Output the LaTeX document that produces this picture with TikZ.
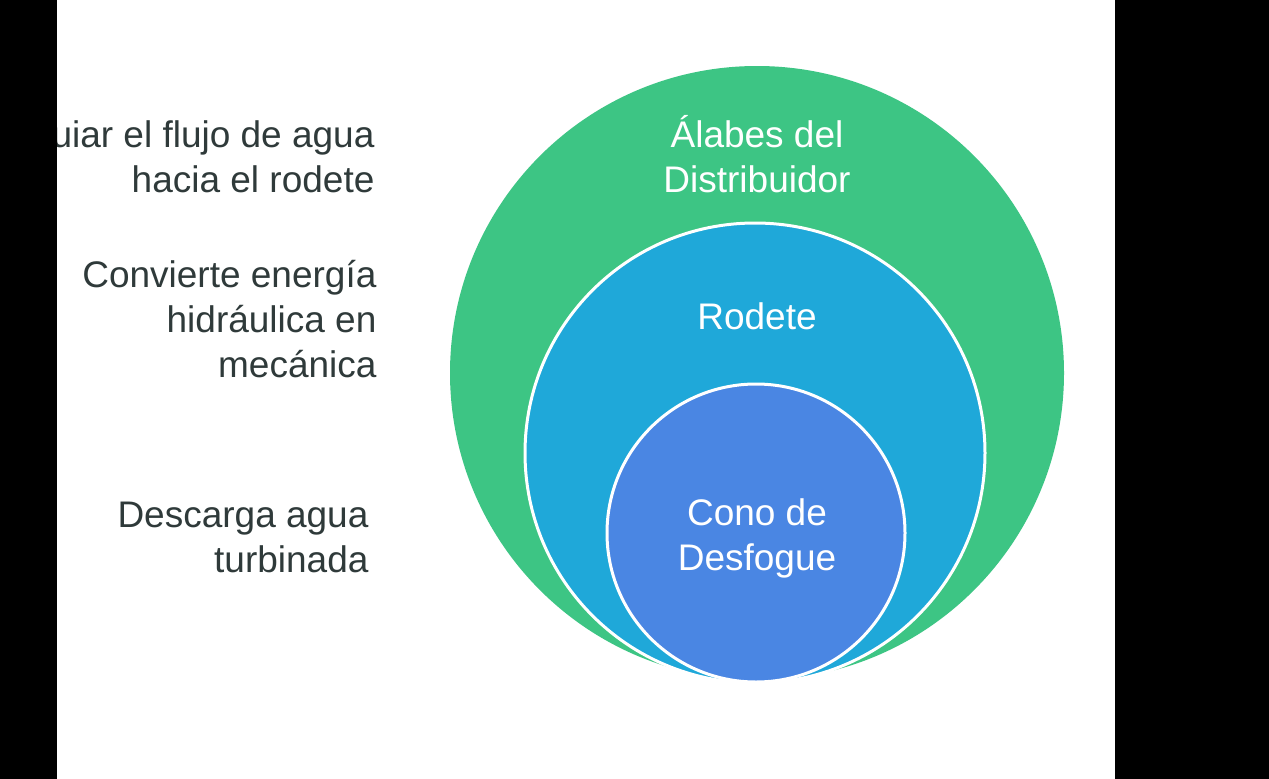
\documentclass[tikz,border=0pt]{standalone}
\usepackage{fontspec}
\setmainfont{Liberation Sans}
\usetikzlibrary{positioning}
\definecolor{green}{HTML}{3DC584}
\definecolor{blue}{HTML}{1FA8D9}
\definecolor{indigo}{HTML}{4A86E3}
\definecolor{ink}{HTML}{2F3A3A}
\tikzset{
  ring/.style={circle,inner sep=0pt,draw=white,line width=3pt},
  inlabel/.style={text=white,align=center,font=\fontsize{37}{45}\selectfont},
  sidelabel/.style={text=ink,align=right,anchor=base east,font=\fontsize{37}{45}\selectfont}
}
\begin{document}
\begin{tikzpicture}[x=1pt,y=-1pt]
        \useasboundingbox (0,0) rectangle (1269,779);
        \fill[white] (0,0) rectangle (1269,779);
        \node[circle,inner sep=0pt,fill=green,minimum size=614pt] (distribuidor) at (757,373) {};
        \node[ring,fill=blue,minimum size=460pt] (rodete) at (755,453) {};
        \node[ring,fill=indigo,minimum size=298pt] (cono) at (756,533) {};
        \node[inlabel,anchor=base] (tdistribuidor) at (757,192) {Álabes del\\Distribuidor};
        \node[inlabel,anchor=base] (trodete) at (757,329) {Rodete};
        \node[inlabel,anchor=base] (tcono) at (757,570) {Cono de\\Desfogue};
        \node[sidelabel] (fguiar) at (378,192) {uiar el flujo de agua\\hacia el rodete};
        \node[sidelabel] (fconvierte) at (380,377) {Convierte energía\\hidráulica en\\mecánica};
        \node[sidelabel] (fdescarga) at (372,572) {Descarga agua\\turbinada};
        \fill[black] (0,0) rectangle (57,779);
        \fill[black] (1115,0) rectangle (1269,779);
      \end{tikzpicture}
\end{document}
